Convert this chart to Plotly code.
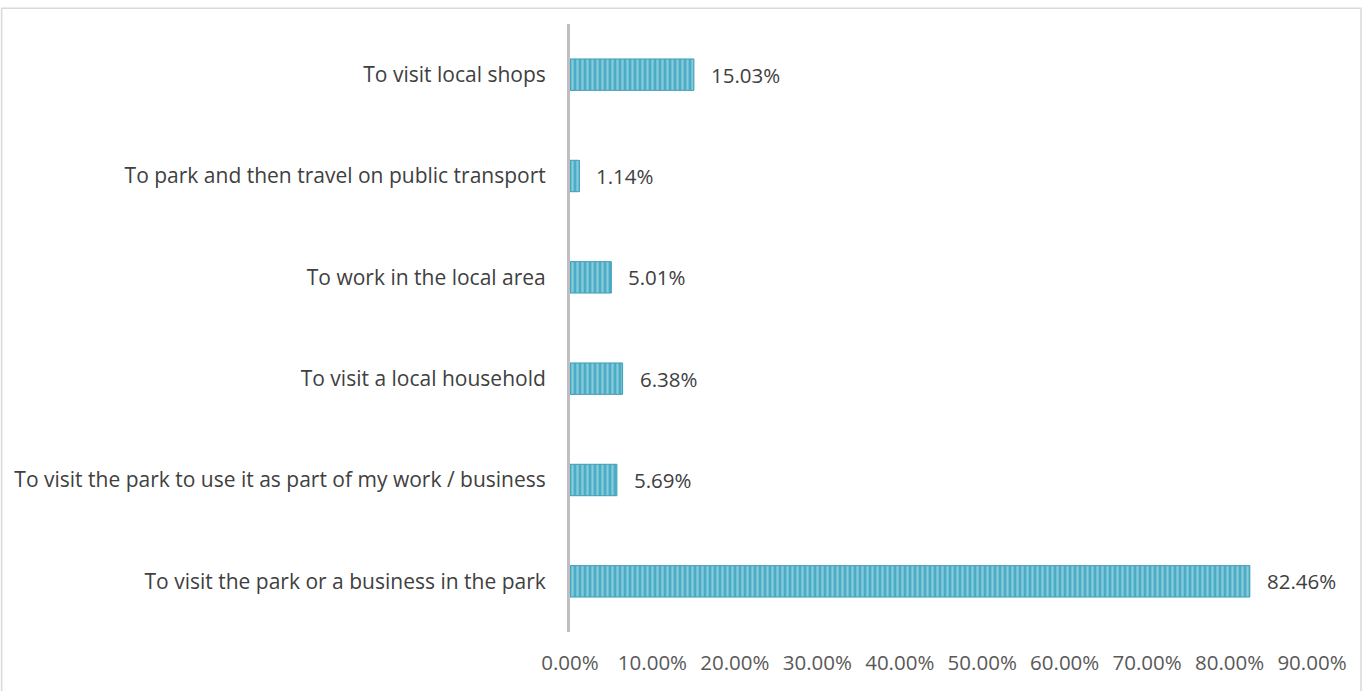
import plotly.graph_objects as go

categories = [
    "To visit the park or a business in the park",
    "To visit the park to use it as part of my work / business",
    "To visit a local household",
    "To work in the local area",
    "To park and then travel on public transport",
    "To visit local shops",
]
values = [82.46, 5.69, 6.38, 5.01, 1.14, 15.03]
tick_vals = [0, 10, 20, 30, 40, 50, 60, 70, 80, 90]
tick_text = [f"{v:.2f}%" for v in tick_vals]

FONT = "Open Sans, Lato, sans-serif"

fig = go.Figure(
    go.Bar(
        y=categories,
        x=values,
        orientation="h",
        width=0.31,
        marker=dict(
            color="#4BACC6",
            line=dict(color="#3E9DB8", width=1),
            pattern=dict(shape="|", bgcolor="#4BACC6", fgcolor="#C4E8F1",
                         size=5, solidity=0.45, fillmode="overlay"),
        ),
        hoverinfo="skip",
    )
)

for cat, v in zip(categories, values):
    fig.add_annotation(
        x=v, y=cat, text=f"{v:.2f}%", showarrow=False,
        xanchor="left", xshift=15,
        font=dict(family=FONT, size=20.5, color="#404040"),
    )

# outer chart frame
fig.add_shape(
    type="rect", xref="paper", yref="paper",
    x0=-0.766, x1=1.066, y0=-0.2, y1=1.026,
    line=dict(color="#D9D9D9", width=1.5), layer="below",
)

fig.update_layout(
    width=1370, height=691,
    margin=dict(l=570, r=58, t=24, b=59),
    paper_bgcolor="white", plot_bgcolor="white",
    showlegend=False,
    bargap=0.69,
    xaxis=dict(
        range=[0, 90], tickvals=tick_vals, ticktext=tick_text,
        showgrid=False, zeroline=False, showline=False,
        tickfont=dict(family=FONT, size=20.5, color="#595959"),
        ticks="", ticklabelstandoff=16,
    ),
    yaxis=dict(
        categoryorder="array", categoryarray=categories,
        showgrid=False, zeroline=False,
        showline=True, linecolor="#BFBFBF", linewidth=3,
        ticks="", ticklabelstandoff=17,
        tickfont=dict(family=FONT, size=21, color="#404040"),
    ),
)

fig.write_html("out.html")
